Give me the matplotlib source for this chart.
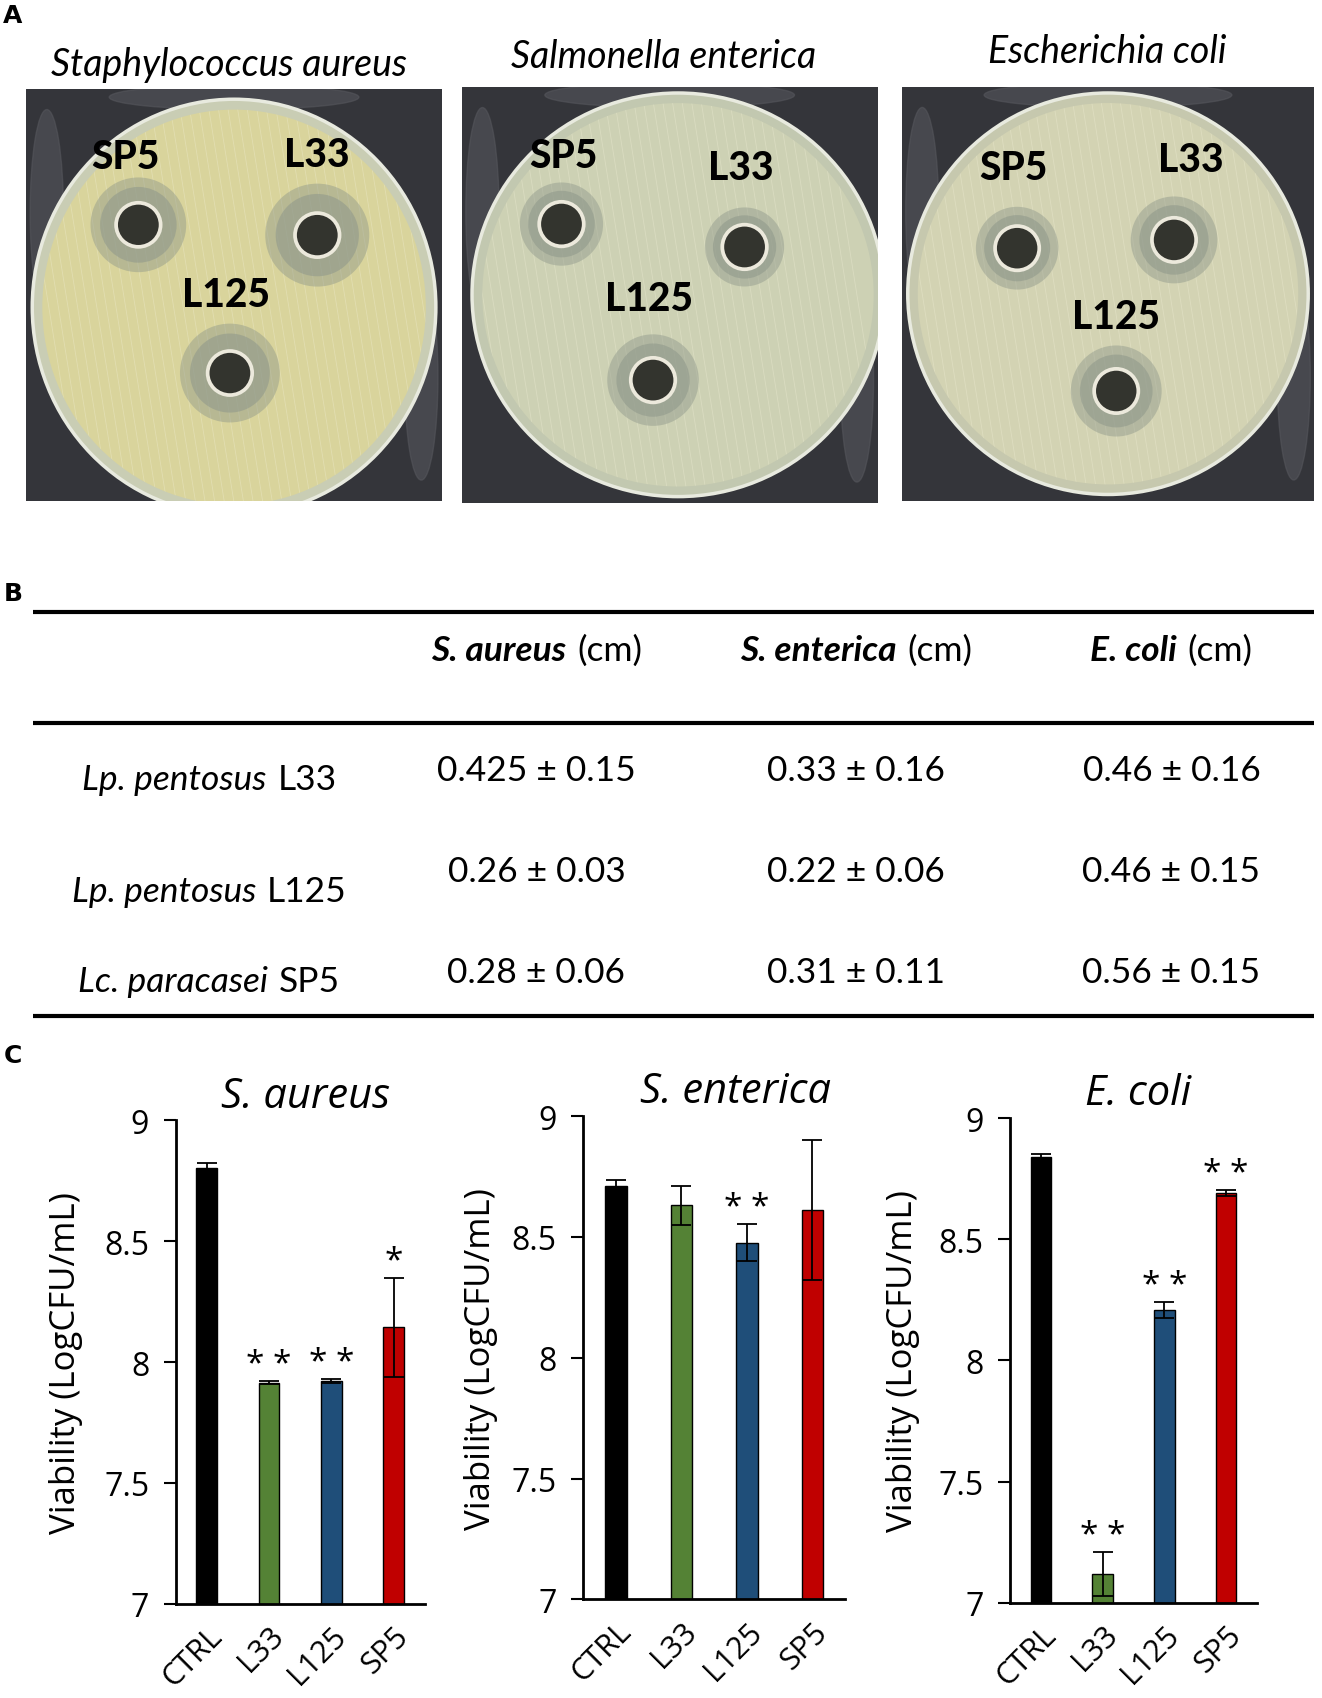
import matplotlib
matplotlib.use("Agg")
import matplotlib.pyplot as plt
import matplotlib.transforms as mtransforms
from matplotlib.patches import Ellipse, Circle, Rectangle
from matplotlib.offsetbox import TextArea, HPacker, AnnotationBbox
import numpy as np

# ---------------- data ----------------
groups = ["CTRL", "L33", "L125", "SP5"]
bar_colors = ["#000000", "#548235", "#1F4E79", "#C00000"]
pathogens_short = ["S. aureus", "S. enterica", "E. coli"]
pathogens_full = ["Staphylococcus aureus", "Salmonella enterica", "Escherichia coli"]

viab_saureus = [8.805, 7.915, 7.92, 8.145]
err_saureus = [0.02, 0.005, 0.008, 0.205]
viab_senterica = [8.712, 8.631, 8.477, 8.613]
err_senterica = [0.023, 0.08, 0.077, 0.29]
viab_ecoli = [8.841, 7.118, 8.209, 8.692]
err_ecoli = [0.013, 0.09, 0.033, 0.013]
sig_saureus = ["", "**", "**", "*"]
sig_senterica = ["", "", "**", ""]
sig_ecoli = ["", "**", "**", "**"]

yticks = [7, 7.5, 8, 8.5, 9]
ytick_labels = ["7", "7.5", "8", "8.5", "9"]
ylabel = "Viability (LogCFU/mL)"

strain_species = ["Lp. pentosus", "Lp. pentosus", "Lc. paracasei"]
strain_ids = ["L33", "L125", "SP5"]
halo_saureus = ["0.425 ± 0.15", "0.26 ± 0.03", "0.28 ± 0.06"]
halo_senterica = ["0.33 ± 0.16", "0.22 ± 0.06", "0.31 ± 0.11"]
halo_ecoli = ["0.46 ± 0.16", "0.46 ± 0.15", "0.56 ± 0.15"]
well_labels = ["SP5", "L33", "L125"]

# ---------------- layout helpers ----------------
W0, H0 = 1220.0, 1568.0


def fr(x0, y0, x1, y1):
    return [x0 / W0, 1 - y1 / H0, (x1 - x0) / W0, (y1 - y0) / H0]


FONT_C = ["Open Sans", "DejaVu Sans"]
FONT_T = ["Lato", "DejaVu Sans"]

fig = plt.figure(figsize=(13.22, 16.99), dpi=100)
fig.patch.set_facecolor("white")

ov = fig.add_axes([0, 0, 1, 1])
ov.set_xlim(0, W0)
ov.set_ylim(H0, 0)
ov.axis("off")
ov.set_zorder(-1)

for lab, (x, y) in zip(["A", "B", "C"], [(12, 15), (12, 548), (12, 975)]):
    ov.text(x, y, lab, fontsize=18, fontweight="bold", family=["DejaVu Sans"],
            ha="center", va="center")

# ---------------- Panel A: plate photos (schematic) ----------------
photo_boxes = [(24, 83, 408, 463), (426, 81, 810, 465), (832, 81, 1213, 463)]
title_pos = [(211, 60), (612, 53), (1022, 48)]
agar_cols = ["#d9d49c", "#cdd1b4", "#d3d3b3"]
rim_cols = ["#c9cdb4", "#c2c8b0", "#c6c8ae"]
plate_geo = [(0.50, 0.53, 0.97, 1.01), (0.52, 0.50, 0.99, 0.97), (0.50, 0.50, 0.97, 0.97)]
wells = [
    [(0.27, 0.33), (0.70, 0.355), (0.49, 0.69)],
    [(0.24, 0.33), (0.68, 0.385), (0.46, 0.705)],
    [(0.28, 0.39), (0.66, 0.37), (0.52, 0.735)],
]
labels_xy = [
    [(0.24, 0.165), (0.70, 0.16), (0.48, 0.50)],
    [(0.245, 0.165), (0.67, 0.195), (0.45, 0.51)],
    [(0.27, 0.195), (0.70, 0.175), (0.52, 0.555)],
]
halo_r = [[0.115, 0.125, 0.12], [0.10, 0.095, 0.11], [0.10, 0.105, 0.11]]

for k, box in enumerate(photo_boxes):
    ax = fig.add_axes(fr(*box))
    ax.set_xlim(0, 1)
    ax.set_ylim(1, 0)
    ax.axis("off")
    ax.add_patch(Rectangle((0, 0), 1, 1, color="#34353a", zorder=0))
    for (cx, cy, w, h) in [(0.05, 0.3, 0.08, 0.5), (0.95, 0.7, 0.08, 0.5), (0.5, 0.02, 0.6, 0.06)]:
        ax.add_patch(Ellipse((cx, cy), w, h, color="#55565c", alpha=0.6, zorder=0.5))
    cx, cy, w, h = plate_geo[k]
    ax.add_patch(Ellipse((cx, cy), w, h, facecolor=rim_cols[k], edgecolor="#e8eadf",
                         linewidth=2.5, zorder=1))
    agar = Ellipse((cx, cy), w * 0.95, h * 0.95, facecolor=agar_cols[k], edgecolor="none", zorder=2)
    ax.add_patch(agar)
    for t in np.linspace(0.05, 0.95, 40):
        ln, = ax.plot([t - 0.08, t + 0.08], [0.0, 1.0], color="#f2f0d8", lw=0.6, alpha=0.35, zorder=2.5)
        ln.set_clip_path(agar)
    for j, (wx, wy) in enumerate(wells[k]):
        r = halo_r[k][j]
        ax.add_patch(Circle((wx, wy), r, facecolor="#8e978a", edgecolor="none", alpha=0.45, zorder=3))
        ax.add_patch(Circle((wx, wy), r * 0.8, facecolor="#8e978a", edgecolor="none", alpha=0.55, zorder=3))
        ax.add_patch(Circle((wx, wy), 0.058, facecolor="#ece9dc", edgecolor="none", zorder=4))
        ax.add_patch(Circle((wx, wy), 0.049, facecolor="#33342e", edgecolor="none", zorder=5))
    for j, (lx, ly) in enumerate(labels_xy[k]):
        ax.text(lx, ly, well_labels[j], fontsize=28, fontweight="black", family=FONT_T,
                ha="center", va="center", color="black", zorder=6)
    tx, ty = title_pos[k]
    ov.text(tx, ty, pathogens_full[k], fontsize=27, style="italic", family=FONT_T,
            ha="center", va="center")

# ---------------- Panel B: table ----------------
for y in (566, 668, 939):
    ov.plot([30, 1213], [y, y], color="black", lw=3, solid_capstyle="butt")

TS = 25.5
col_x = [495, 790, 1081]
for cx, name in zip(col_x, pathogens_short):
    box = HPacker(children=[
        TextArea(name, textprops=dict(fontsize=TS, style="italic", weight="bold", family=FONT_T)),
        TextArea("(cm)", textprops=dict(fontsize=TS, family=FONT_T)),
    ], align="baseline", pad=0, sep=8)
    ov.add_artist(AnnotationBbox(box, (cx, 601), xycoords="data", frameon=False,
                                 box_alignment=(0.5, 0.5)))

row_label_y = [720, 823, 906]
row_val_y = [712, 805, 898]
for i in range(3):
    box = HPacker(children=[
        TextArea(strain_species[i], textprops=dict(fontsize=TS, style="italic", family=FONT_T)),
        TextArea(strain_ids[i], textprops=dict(fontsize=TS, family=FONT_T)),
    ], align="baseline", pad=0, sep=8)
    ov.add_artist(AnnotationBbox(box, (193, row_label_y[i]), xycoords="data", frameon=False,
                                 box_alignment=(0.5, 0.5)))
    for cx, col in zip(col_x, [halo_saureus, halo_senterica, halo_ecoli]):
        ov.text(cx, row_val_y[i], col[i], fontsize=TS, family=FONT_T, ha="center", va="center")

# ---------------- Panel C: bar charts ----------------
chart_boxes = [(162, 1035, 392, 1481), (538, 1031, 780, 1477), (932, 1033, 1160, 1480)]
title_x = [0.52, 0.58, 0.52]
ylabel_pad = [15, 10, 13]
series = [(viab_saureus, err_saureus, sig_saureus),
          (viab_senterica, err_senterica, sig_senterica),
          (viab_ecoli, err_ecoli, sig_ecoli)]
shift = mtransforms.ScaledTranslation(10 / 72, 0, fig.dpi_scale_trans)

for k, box in enumerate(chart_boxes):
    ax = fig.add_axes(fr(*box))
    vals, errs, sigs = series[k]
    x = np.arange(len(groups))
    ax.bar(x, vals, width=0.33, color=bar_colors, edgecolor="black", linewidth=1.0,
           yerr=errs, capsize=7,
           error_kw=dict(elinewidth=1.3, capthick=1.3, ecolor="black"))
    for i in range(len(groups)):
        if sigs[i]:
            ax.annotate(" ".join(sigs[i]), (x[i], vals[i] + errs[i]), xytext=(0, 0),
                        textcoords="offset points", ha="center", va="bottom",
                        fontsize=24, family=FONT_C)
    ax.set_xlim(-0.5, 3.5)
    ax.set_ylim(7, 9)
    ax.set_yticks(yticks)
    ax.set_yticklabels(ytick_labels, family=FONT_C, fontsize=23)
    ax.set_xticks(x)
    ax.set_xticklabels(groups, family=FONT_C, fontsize=22, rotation=45, ha="right",
                       rotation_mode="anchor")
    for lbl in ax.get_xticklabels():
        lbl.set_transform(lbl.get_transform() + shift)
    ax.tick_params(axis="y", length=9, width=1.5, pad=10)
    ax.tick_params(axis="x", length=0, pad=12)
    for s in ("top", "right"):
        ax.spines[s].set_visible(False)
    for s in ("left", "bottom"):
        ax.spines[s].set_linewidth(2)
    ax.set_ylabel(ylabel, family=FONT_C, fontsize=25, labelpad=ylabel_pad[k])
    ax.set_title(pathogens_short[k], family=FONT_C, fontsize=30, style="italic",
                 x=title_x[k], pad=10)

fig.savefig("out.png", dpi=100)
